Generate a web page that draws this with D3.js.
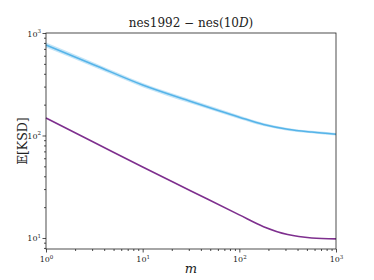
<!DOCTYPE html>
<html>
<head>
<meta charset="utf-8">
<script src="https://cdn.jsdelivr.net/npm/d3@7"></script>
<style>
  body { margin: 0; background: #fff; }
  text { font-family: 'DejaVu Serif', 'Liberation Serif', serif; }
</style>
</head>
<body>
<svg width="374" height="280"></svg>
<script>
const mValues = [1, 3.16, 10, 31.6, 100, 178, 316, 562, 1000]
const nesMean = [764, 488, 311, 215, 151, 128, 115, 108, 103]
const nesLow = [720, 462, 296, 205, 145, 123.5, 111.5, 105, 100]
const nesHigh = [810, 514, 326, 225, 157, 132.5, 118.5, 111, 106]
const refMean = [148, 85.5, 49.3, 28.8, 16.8, 12.9, 10.8, 10.0, 9.8]
const xTicks = [1, 10, 100, 1000]
const yTicks = [10, 100, 1000]
const xTickExp = ['0', '1', '2', '3']
const yTickExp = ['1', '2', '3']

const svg = d3.select('svg')
const margin = { top: 33, right: 38, bottom: 31, left: 46 }
const width = +svg.attr('width') - margin.left - margin.right
const height = +svg.attr('height') - margin.top - margin.bottom
const g = svg.append('g').attr('transform', 'translate(' + margin.left + ',' + margin.top + ')')

const x = d3.scaleLog().domain([1, 1000]).range([0, width])
const y = d3.scaleLog().domain([7.81, 1000]).range([height, 0])

const band = d3.area()
  .x(function (d, i) { return x(mValues[i]) })
  .y0(function (d, i) { return y(nesLow[i]) })
  .y1(function (d, i) { return y(nesHigh[i]) })
  .curve(d3.curveMonotoneX)

const line = d3.line()
  .x(function (d, i) { return x(mValues[i]) })
  .y(function (d) { return y(d) })
  .curve(d3.curveMonotoneX)

g.append('path')
  .datum(nesMean)
  .attr('d', band)
  .attr('fill', '#56B4E9')
  .attr('opacity', 0.35)

g.append('path')
  .datum(nesMean)
  .attr('d', line)
  .attr('fill', 'none')
  .attr('stroke', '#56B4E9')
  .attr('stroke-width', 1.6)

g.append('path')
  .datum(refMean)
  .attr('d', line)
  .attr('fill', 'none')
  .attr('stroke', '#7E2F8E')
  .attr('stroke-width', 1.6)

// minor ticks
const xMinor = []
for (let d = 1; d < 1000; d *= 10) {
  for (let k = 2; k < 10; k++) xMinor.push(d * k)
}
const yMinor = []
for (let d = 1; d < 1000; d *= 10) {
  for (let k = 2; k < 10; k++) if (d * k > 7.81) yMinor.push(d * k)
}

g.append('g')
  .attr('transform', 'translate(0,' + height + ')')
  .call(d3.axisBottom(x).tickValues(xMinor).tickSize(2).tickFormat(''))
g.append('g')
  .call(d3.axisLeft(y).tickValues(yMinor).tickSize(2).tickFormat(''))

const xAxis = g.append('g')
  .attr('transform', 'translate(0,' + height + ')')
  .call(d3.axisBottom(x).tickValues(xTicks).tickSize(3.5).tickPadding(3).tickFormat(''))
const yAxis = g.append('g')
  .call(d3.axisLeft(y).tickValues(yTicks).tickSize(3.5).tickPadding(3).tickFormat(''))

g.selectAll('.domain').remove()
g.selectAll('.tick line').attr('stroke', '#222').attr('stroke-width', 0.8)

function powerLabel (sel, exp) {
  sel.append('tspan').text('10')
  sel.append('tspan').attr('dy', -3.5).attr('font-size', 5.5).text(exp)
}

xAxis.selectAll('.tick').each(function (d, i) {
  const t = d3.select(this).append('text')
    .attr('y', 13)
    .attr('text-anchor', 'middle')
    .attr('fill', '#222')
    .attr('font-size', 8)
  powerLabel(t, xTickExp[i])
})

yAxis.selectAll('.tick').each(function (d, i) {
  const t = d3.select(this).append('text')
    .attr('x', -5)
    .attr('y', 3)
    .attr('text-anchor', 'end')
    .attr('fill', '#222')
    .attr('font-size', 8)
  powerLabel(t, yTickExp[i])
})

g.append('rect')
  .attr('width', width)
  .attr('height', height)
  .attr('fill', 'none')
  .attr('stroke', '#222')
  .attr('stroke-width', 0.8)

svg.append('text')
  .attr('x', margin.left + width / 2)
  .attr('y', 27)
  .attr('text-anchor', 'middle')
  .attr('font-size', 12)
  .attr('fill', '#222')
  .html('nes1992 − nes(10<tspan font-style="italic">D</tspan>)')

svg.append('text')
  .attr('x', margin.left + width / 2)
  .attr('y', 273)
  .attr('text-anchor', 'middle')
  .attr('font-size', 13)
  .attr('font-style', 'italic')
  .attr('fill', '#222')
  .text('m')

svg.append('text')
  .attr('transform', 'translate(27,' + (margin.top + height / 2) + ') rotate(-90)')
  .attr('text-anchor', 'middle')
  .attr('font-size', 12.5)
  .attr('fill', '#222')
  .text('𝔼[KSD]')
</script>
</body>
</html>
